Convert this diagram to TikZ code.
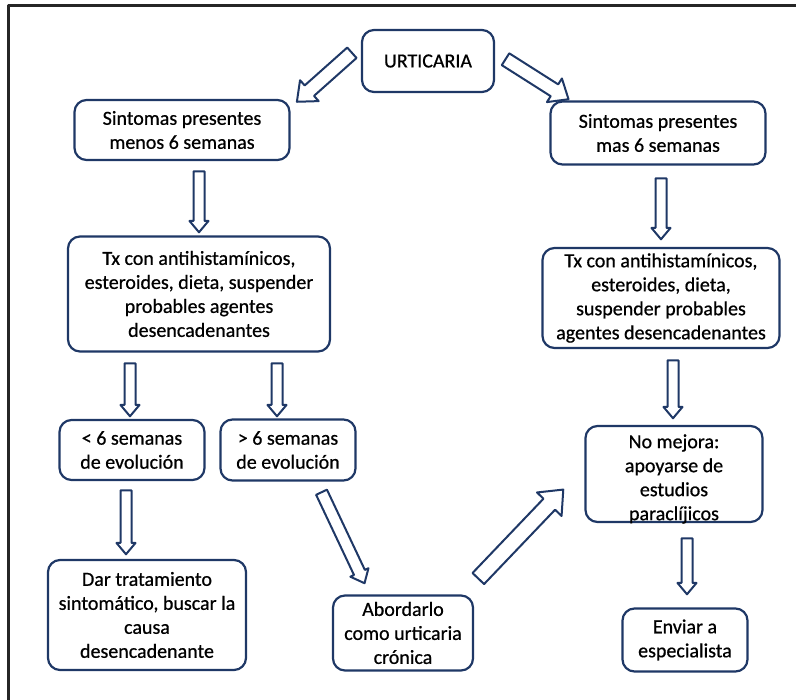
\documentclass[tikz,border=0pt]{standalone}
\usepackage{fontspec}
\setmainfont{Carlito}[RawFeature={embolden=0.7}]
\usetikzlibrary{shapes.arrows,calc}
\definecolor{navy}{rgb}{0.12,0.22,0.40}
\definecolor{framegray}{rgb}{0.15,0.15,0.15}
% hollow block arrow from tail #2 to tip #3
\newcommand{\hollowarrow}[3][]{%
  \path let \p1=(#2), \p2=(#3), \n1={atan2(\y2-\y1,\x2-\x1)}, \n2={veclen(\x2-\x1,\y2-\y1)} in
    ($(#2)!0.5!(#3)$) node[blockarrow, rotate=\n1, minimum height=\n2, #1] {};}

\begin{document}
\begin{tikzpicture}[x=1pt, y=-1pt, line cap=round, line join=round,
  boxtext/.style={align=center, font=\fontsize{20}{24}\selectfont},
  box/.style={draw=navy, line width=2.2pt, rounded corners=12pt, fill=white,
    inner sep=1pt, boxtext},
  blockarrow/.style={single arrow, draw=navy, line width=2pt, fill=white,
    inner xsep=0pt, inner ysep=4.5pt, single arrow head extend=4pt,
    single arrow tip angle=80},
  bigarrow/.style={inner ysep=6pt, single arrow head extend=7pt}]
	\useasboundingbox (0,0) rectangle (796,700);
	\draw [framegray, line width=3pt, line cap=butt] (8,700) -- (8,6) -- (796,6);
	% boxes
	\node [box, minimum width=132, minimum height=62] (urt) at (428,61) {URTICARIA};
	\node [box, minimum width=215, minimum height=60] (sl) at (182,130) {Sintomas presentes\\menos 6 semanas};
	\node [box, minimum width=215, minimum height=63] (sr) at (658,133) {Sintomas presentes\\mas 6 semanas};
	\node [box, minimum width=262, minimum height=115] (tl) at (199,294) {Tx con antihistamínicos,\\esteroides, dieta, suspender\\probables agentes\\desencadenantes};
	\node [box, minimum width=237, minimum height=100] (tr) at (661,298) {Tx con antihistamínicos,\\esteroides, dieta,\\suspender probables\\agentes desencadenantes};
	\node [box, minimum width=145, minimum height=60] (el) at (132,450) {< 6 semanas\\de evolución};
	\node [box, minimum width=135, minimum height=61] (eg) at (288,450) {> 6 semanas\\de evolución};
	\node [box, minimum width=177, minimum height=96,
	  label={[boxtext, yshift=-5pt]center:{No mejora:\\apoyarse de\\estudios\\paraclíjicos}}] (nm) at (674,474) {};
	\node [box, minimum width=198, minimum height=110] (dar) at (147,615) {Dar tratamiento\\sintomático, buscar la\\causa\\desencadenante};
	\node [box, minimum width=140, minimum height=75] (abo) at (403,633) {Abordarlo\\como urticaria\\crónica};
	\node [box, minimum width=125, minimum height=63] (env) at (685,640) {Enviar a\\especialista};
	% arrow ends
	\coordinate (a1t) at (355,50);  \coordinate (a1h) at (300,99);
	\coordinate (a2t) at (502,57);  \coordinate (a2h) at (565,97);
	\coordinate (a3t) at (199,168); \coordinate (a3h) at (199,229);
	\coordinate (a4t) at (661,175); \coordinate (a4h) at (661,236);
	\coordinate (a5t) at (130,360); \coordinate (a5h) at (130,413);
	\coordinate (a6t) at (277,360); \coordinate (a6h) at (277,413);
	\coordinate (a7t) at (673,357); \coordinate (a7h) at (673,415);
	\coordinate (a8t) at (126,487); \coordinate (a8h) at (126,551);
	\coordinate (a9t) at (320,489); \coordinate (a9h) at (363,580);
	\coordinate (a10t) at (475,582); \coordinate (a10h) at (560,493);
	\coordinate (a11t) at (687,535); \coordinate (a11h) at (687,591);
	% arrows
	\hollowarrow[bigarrow]{a1t}{a1h}
	\hollowarrow[bigarrow]{a2t}{a2h}
	\hollowarrow{a3t}{a3h}
	\hollowarrow{a4t}{a4h}
	\hollowarrow{a5t}{a5h}
	\hollowarrow{a6t}{a6h}
	\hollowarrow{a7t}{a7h}
	\hollowarrow{a8t}{a8h}
	\hollowarrow[inner ysep=5pt]{a9t}{a9h}
	\hollowarrow[inner ysep=7pt, single arrow head extend=9pt]{a10t}{a10h}
	\hollowarrow{a11t}{a11h}
\end{tikzpicture}
\end{document}
